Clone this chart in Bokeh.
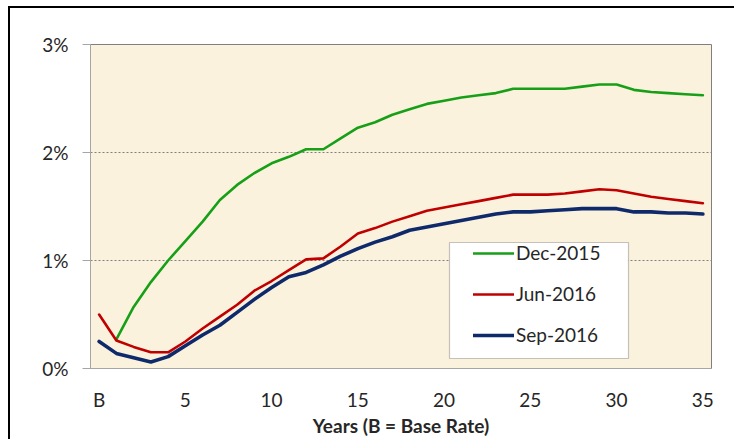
from bokeh.plotting import figure
from bokeh.models import (Range1d, FixedTicker, Legend, LegendItem, BoxAnnotation)
from bokeh.embed import file_html
from bokeh.resources import INLINE

# ---- data (values in %) ----
years = list(range(0, 36))
tick_years = [0, 5, 10, 15, 20, 25, 30, 35]
tick_labels = ["B", "5", "10", "15", "20", "25", "30", "35"]
y_ticks = [0, 1, 2, 3]
y_labels = ["0%", "1%", "2%", "3%"]

dec_2015_years = list(range(1, 36))
dec_2015 = [0.27, 0.57, 0.80, 1.00, 1.18, 1.36, 1.56, 1.70, 1.81, 1.90,
            1.96, 2.03, 2.03, 2.13, 2.23, 2.28, 2.35, 2.40, 2.45, 2.48,
            2.51, 2.53, 2.55, 2.59, 2.59, 2.59, 2.59, 2.61, 2.63, 2.63,
            2.58, 2.56, 2.55, 2.54, 2.53]
jun_2016 = [0.50, 0.26, 0.20, 0.15, 0.15, 0.25, 0.37, 0.48, 0.59, 0.72,
            0.81, 0.91, 1.01, 1.02, 1.13, 1.25, 1.30, 1.36, 1.41, 1.46,
            1.49, 1.52, 1.55, 1.58, 1.61, 1.61, 1.61, 1.62, 1.64, 1.66,
            1.65, 1.62, 1.59, 1.57, 1.55, 1.53]
sep_2016 = [0.25, 0.14, 0.10, 0.06, 0.11, 0.21, 0.31, 0.40, 0.52, 0.64,
            0.75, 0.85, 0.89, 0.96, 1.04, 1.11, 1.17, 1.22, 1.28, 1.31,
            1.34, 1.37, 1.40, 1.43, 1.45, 1.45, 1.46, 1.47, 1.48, 1.48,
            1.48, 1.45, 1.45, 1.44, 1.44, 1.43]

FONT = "Lato"
TXT = "#262626"

p = figure(width=724, height=429, output_backend="svg", toolbar_location=None,
           x_range=Range1d(-0.5, 35.5), y_range=Range1d(0, 3),
           min_border_left=80, min_border_right=23, min_border_top=36,
           min_border_bottom=69)
p.frame_width = 621
p.frame_height = 324
p.background_fill_color = "#FBF2DE"
p.border_fill_color = "white"
p.outline_line_color = "#7F7F7F"
p.outline_line_width = 1
# outer chart border: black lines at the top and left of the chart area
p.styles = {
    "margin-left": "8px",
    "margin-top": "6px",
    "border-left": "2px solid black",
    "border-top": "2px solid black",
}

# axes
p.xaxis.ticker = FixedTicker(ticks=tick_years)
p.xaxis.major_label_overrides = dict(zip(tick_years, tick_labels))
p.xaxis.major_tick_line_color = None
p.xaxis.minor_tick_line_color = None
p.xaxis.major_tick_out = 0
p.xaxis.major_tick_in = 0
p.xaxis.major_label_standoff = 19
p.xaxis.axis_line_color = "#A6A6A6"
p.xaxis.axis_label = "Years (B = Base Rate)"
p.xaxis.axis_label_text_font = FONT
p.xaxis.axis_label_text_font_style = "bold"
p.xaxis.axis_label_text_font_size = "19px"
p.xaxis.axis_label_text_color = TXT
p.xaxis.axis_label_standoff = 0

p.yaxis.ticker = FixedTicker(ticks=y_ticks)
p.yaxis.major_label_overrides = dict(zip(y_ticks, y_labels))
p.yaxis.minor_tick_line_color = None
p.yaxis.major_tick_out = 8
p.yaxis.major_tick_in = 0
p.yaxis.major_tick_line_color = "#A6A6A6"
p.yaxis.axis_line_color = "#A6A6A6"
p.yaxis.major_label_standoff = 14

for ax in (p.xaxis, p.yaxis):
    ax.major_label_text_font = FONT
    ax.major_label_text_font_size = "19px"
    ax.major_label_text_color = TXT

p.xgrid.grid_line_color = None
p.ygrid.grid_line_color = "#808080"
p.ygrid.grid_line_dash = "2 2"
p.ygrid.grid_line_width = 1

# lines
r1 = p.line(dec_2015_years, dec_2015, line_color="#17A017", line_width=2.6,
            line_join="round", line_cap="round")
r2 = p.line(years, jun_2016, line_color="#C00000", line_width=2.6,
            line_join="round", line_cap="round")
r3 = p.line(years, sep_2016, line_color="#0F2A6B", line_width=3.6,
            line_join="round", line_cap="round")

# legend frame (white box with dark border), canvas coordinates
legend_box = BoxAnnotation(left=437, right=616, top=232, bottom=348,
                           left_units="canvas", right_units="canvas",
                           top_units="canvas", bottom_units="canvas",
                           fill_color="white", fill_alpha=1.0,
                           line_color="#404040", line_width=1.2)
p.add_layout(legend_box)

legend = Legend(items=[LegendItem(label="Dec-2015", renderers=[r1]),
                       LegendItem(label="Jun-2016", renderers=[r2]),
                       LegendItem(label="Sep-2016", renderers=[r3])],
                location=(373, 12), padding=10, spacing=18,
                label_height=20, glyph_height=20, glyph_width=41,
                label_standoff=2, label_text_font=FONT,
                label_text_font_size="19px", label_text_color=TXT,
                background_fill_alpha=0, border_line_alpha=0,
                label_text_baseline="middle")
p.add_layout(legend, "center")

open("out.html", "w").write(file_html(p, INLINE))
